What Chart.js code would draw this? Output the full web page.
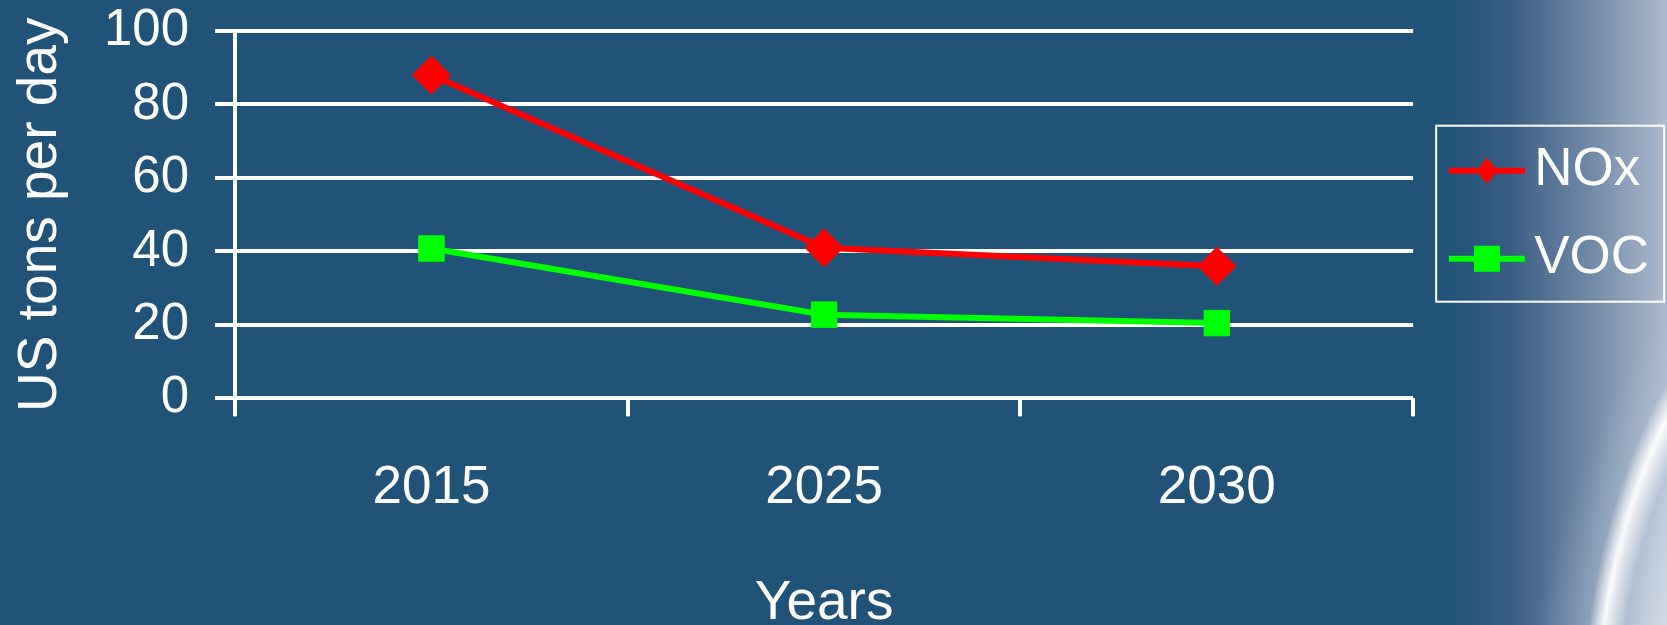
<!DOCTYPE html>
<html>
<head>
<meta charset="utf-8">
<script src="https://cdn.jsdelivr.net/npm/chart.js@4/dist/chart.umd.min.js"></script>
<style>
  html, body { margin: 0; padding: 0; }
  body {
    width: 1667px; height: 625px; overflow: hidden;
    background:
      radial-gradient(300px 500px at 1893px 740px, rgba(255,255,255,0) 92%, rgba(255,255,255,0.95) 99%, rgba(255,255,255,0) 104%),
      radial-gradient(330px 520px at 1860px 740px, rgba(225,232,242,0.9) 55%, rgba(190,202,220,0.5) 80%, rgba(33,82,119,0) 100%),
      linear-gradient(to right, #215277 0px, #215277 1450px, #3a5d84 1510px, #7189a7 1590px, #aebacd 1667px);
  }
  #wrap { width: 1667px; height: 625px; position: relative; }
</style>
</head>
<body>
<div id="wrap"><canvas id="emissions"></canvas></div>
<script>
const years = ['2015', '2025', '2030']
const noxValues = [88, 41, 36]
const vocValues = [40.8, 22.8, 20.5]
const yTicks = [0, 20, 40, 60, 80, 100]

const white = '#ffffff'
const fontFamily = '"Liberation Sans", Arial, sans-serif'

// legend symbol: a short line with the marker in its middle
// (drawn a bit right of the image centre so it lines up with the text)
function legendSymbol(color, style) {
    var c = document.createElement('canvas')
    c.width = 96
    c.height = 30
    var g = c.getContext('2d')
    g.strokeStyle = color
    g.fillStyle = color
    g.lineWidth = 6
    g.beginPath()
    g.moveTo(19, 15)
    g.lineTo(95, 15)
    g.stroke()
    g.beginPath()
    if (style == 'diamond') {
        g.moveTo(57, 2); g.lineTo(68, 15); g.lineTo(57, 28); g.lineTo(46, 15)
    } else {
        g.rect(44, 2, 26, 26)
    }
    g.closePath()
    g.fill()
    return c
}

// thin white frame around the legend
const legendFrame = {
    id: 'legendFrame',
    afterDraw(chart) {
        var lg = chart.legend
        if (!lg || !lg.legendHitBoxes.length) return
        var boxes = lg.legendHitBoxes
        var last = boxes[boxes.length - 1]
        var top = boxes[0].top + boxes[0].height / 2 - 45
        var bottom = last.top + last.height / 2 + 43
        var ctx = chart.ctx
        ctx.save()
        ctx.strokeStyle = white
        ctx.lineWidth = 2
        ctx.strokeRect(lg.left + 23, top, 228, bottom - top)
        ctx.restore()
    }
}

const datasets = [
    {
        label: 'NOx',
        data: noxValues,
        borderColor: '#ff0000',
        backgroundColor: '#ff0000',
        borderWidth: 6,
        pointStyle: 'rectRot',
        pointRadius: 19,
        pointBorderWidth: 1,
        pointHoverRadius: 19,
        legendSymbol: legendSymbol('#ff0000', 'diamond'),
    },
    {
        label: 'VOC',
        data: vocValues,
        borderColor: '#00ff00',
        backgroundColor: '#00ff00',
        borderWidth: 6,
        pointStyle: 'rect',
        pointRadius: 18,
        pointBorderWidth: 1,
        pointHoverRadius: 18,
        legendSymbol: legendSymbol('#00ff00', 'square'),
    },
]

new Chart(document.getElementById('emissions').getContext('2d'), {
    type: 'line',
    data: { labels: years, datasets: datasets },
    plugins: [legendFrame],
    options: {
        responsive: true,
        maintainAspectRatio: false,
        animation: false,
        events: [],
        layout: { padding: { top: 31, left: 8, right: 8, bottom: -12 } },
        plugins: {
            tooltip: { enabled: false },
            legend: {
                position: 'right',
                align: 'center',
                fullSize: false,
                labels: {
                    color: white,
                    font: { family: fontFamily, size: 53 },
                    usePointStyle: true,
                    pointStyleWidth: 59.5,
                    padding: 35,
                    generateLabels(chart) {
                        return chart.data.datasets.map((ds, i) => ({
                            text: ds.label,
                            fontColor: white,
                            pointStyle: ds.legendSymbol,
                            datasetIndex: i,
                            lineWidth: 0,
                            hidden: false,
                        }))
                    },
                },
            },
        },
        scales: {
            x: {
                offset: true,
                grid: {
                    offset: true,
                    drawOnChartArea: true,
                    color: (c) => (c.index === 0 || c.index === years.length) ? white : 'rgba(0,0,0,0)',
                    tickColor: white,
                    lineWidth: 4,
                    tickLength: 18,
                },
                border: { display: false },
                ticks: {
                    color: white,
                    font: { family: fontFamily, size: 53 },
                    padding: 40,
                    maxRotation: 0,
                },
                title: {
                    display: true,
                    text: 'Years',
                    color: white,
                    font: { family: fontFamily, size: 55 },
                    padding: { top: 11, bottom: 0 },
                },
            },
            y: {
                min: 0,
                max: 100,
                afterBuildTicks(axis) { axis.ticks = yTicks.map((v) => ({ value: v })) },
                // the top label may stick out above the plot, as in the original
                afterFit(axis) { axis.paddingTop = 0 },
                grid: {
                    color: white,
                    lineWidth: 4,
                    tickLength: 20,
                },
                border: { display: true, color: white, width: 4 },
                ticks: {
                    color: white,
                    font: { family: fontFamily, size: 51 },
                    padding: 26,
                },
                title: {
                    display: true,
                    text: 'US tons per day',
                    color: white,
                    font: { family: fontFamily, size: 55 },
                    padding: { top: 0, bottom: 4 },
                },
            },
        },
    },
})
</script>
</body>
</html>
